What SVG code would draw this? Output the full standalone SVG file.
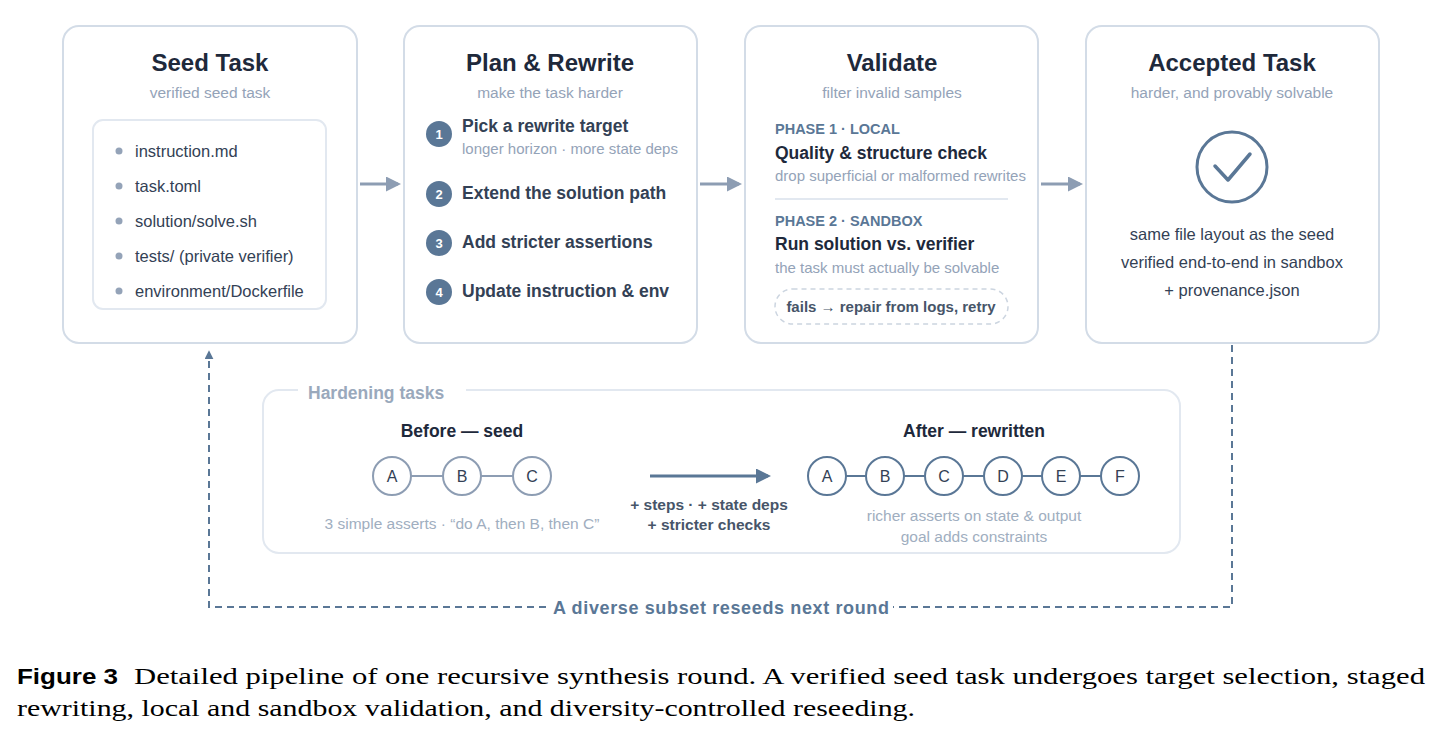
<svg xmlns="http://www.w3.org/2000/svg" width="1442" height="740" viewBox="0 0 1442 740">
<defs>
<style>
.card{fill:#fff;stroke:#d3dce7;stroke-width:2}
.t{font-family:"Liberation Sans",Arial,sans-serif}
.h{font-size:24px;font-weight:bold;fill:#1e293b;text-anchor:middle}
.sub{font-size:15.5px;fill:#94a3b8;text-anchor:middle}
.file{font-size:16.5px;fill:#334155}
.step{font-size:17.5px;font-weight:bold;fill:#334155}
.num{font-size:13px;font-weight:bold;fill:#fff;text-anchor:middle}
.ph{font-size:14.5px;font-weight:bold;fill:#5a7796}
.pt{font-size:17.5px;font-weight:bold;fill:#1e293b}
.ps{font-size:15px;fill:#94a3b8}
.acc{font-size:16.5px;fill:#334155;text-anchor:middle}
.nodeA{fill:#fff;stroke:#8d9db3;stroke-width:2}
.nodeB{fill:#fff;stroke:#5a7796;stroke-width:2}
.nl{font-size:16px;fill:#334155;text-anchor:middle}
.cap{font-family:"Liberation Serif","Times New Roman",serif;font-size:23px;fill:#000}
</style>
<marker id="ag" viewBox="0 0 10 10" refX="8" refY="5" markerWidth="5" markerHeight="5" orient="auto"><path d="M0,0L10,5L0,10z" fill="#8d9db3"/></marker>
<marker id="ab" viewBox="0 0 10 10" refX="8" refY="5" markerWidth="5" markerHeight="5" orient="auto"><path d="M0,0L10,5L0,10z" fill="#5a7796"/></marker>
<marker id="ad" viewBox="0 0 10 10" refX="8" refY="5" markerWidth="4.5" markerHeight="4.5" orient="auto"><path d="M0,0L10,5L0,10z" fill="#5a7796"/></marker>
</defs>
<rect width="1442" height="740" fill="#fff"/>

<g id="connectors">
<line x1="360" y1="184" x2="398" y2="184" stroke="#8d9db3" stroke-width="3" marker-end="url(#ag)"/>
<line x1="700" y1="184" x2="739" y2="184" stroke="#8d9db3" stroke-width="3" marker-end="url(#ag)"/>
<line x1="1041" y1="184" x2="1080" y2="184" stroke="#8d9db3" stroke-width="3" marker-end="url(#ag)"/>
<path d="M1232,345 V607 H209 V352" fill="none" stroke="#5a7796" stroke-width="2" stroke-dasharray="7,5" marker-end="url(#ad)"/>
<rect x="549" y="596" width="344" height="24" fill="#fff"/>
<text class="t" x="721" y="614" font-size="18" font-weight="bold" fill="#5a7796" text-anchor="middle" textLength="336">A diverse subset reseeds next round</text>
</g>

<g id="seed">
<rect class="card" x="63" y="26" width="294" height="317" rx="16"/>
<text class="t h" x="210" y="71">Seed Task</text>
<text class="t sub" x="210" y="98">verified seed task</text>
<rect x="93" y="120" width="233" height="189" rx="10" fill="#fff" stroke="#e2e8f0" stroke-width="2"/>
<g fill="#94a3b8"><circle cx="119" cy="151" r="3.5"/><circle cx="119" cy="186" r="3.5"/><circle cx="119" cy="221" r="3.5"/><circle cx="119" cy="256" r="3.5"/><circle cx="119" cy="291" r="3.5"/></g>
<text class="t file" x="135" y="157">instruction.md</text>
<text class="t file" x="135" y="192">task.toml</text>
<text class="t file" x="135" y="227">solution/solve.sh</text>
<text class="t file" x="135" y="262">tests/ (private verifier)</text>
<text class="t file" x="135" y="297">environment/Dockerfile</text>
</g>

<g id="plan">
<rect class="card" x="404" y="26" width="293" height="317" rx="16"/>
<text class="t h" x="550" y="71">Plan &amp; Rewrite</text>
<text class="t sub" x="550" y="98">make the task harder</text>
<g fill="#5a7796"><circle cx="439" cy="134" r="13"/><circle cx="439" cy="194" r="13"/><circle cx="439" cy="243" r="13"/><circle cx="439" cy="292" r="13"/></g>
<text class="t num" x="439" y="139">1</text><text class="t num" x="439" y="199">2</text><text class="t num" x="439" y="248">3</text><text class="t num" x="439" y="297">4</text>
<text class="t step" x="462" y="132">Pick a rewrite target</text>
<text class="t ps" x="462" y="154">longer horizon · more state deps</text>
<text class="t step" x="462" y="199">Extend the solution path</text>
<text class="t step" x="462" y="248">Add stricter assertions</text>
<text class="t step" x="462" y="297">Update instruction &amp; env</text>
</g>

<g id="validate">
<rect class="card" x="745" y="26" width="293" height="317" rx="16"/>
<text class="t h" x="892" y="71">Validate</text>
<text class="t sub" x="892" y="98">filter invalid samples</text>
<text class="t ph" x="775" y="134">PHASE 1 · LOCAL</text>
<text class="t pt" x="775" y="159">Quality &amp; structure check</text>
<text class="t ps" x="775" y="181">drop superficial or malformed rewrites</text>
<line x1="775" y1="199" x2="1008" y2="199" stroke="#e2e8f0" stroke-width="2"/>
<text class="t ph" x="775" y="226">PHASE 2 · SANDBOX</text>
<text class="t pt" x="775" y="250">Run solution vs. verifier</text>
<text class="t ps" x="775" y="273">the task must actually be solvable</text>
<rect x="775" y="289" width="233" height="35" rx="17.5" fill="#fff" stroke="#ccd5e0" stroke-width="1.5" stroke-dasharray="5,4"/>
<text class="t" x="891" y="312" font-size="15" font-weight="bold" fill="#475569" text-anchor="middle">fails → repair from logs, retry</text>
</g>

<g id="accepted">
<rect class="card" x="1086" y="26" width="293" height="317" rx="16"/>
<text class="t h" x="1232" y="71">Accepted Task</text>
<text class="t sub" x="1232" y="98">harder, and provably solvable</text>
<circle cx="1232" cy="167" r="35" fill="none" stroke="#5a7796" stroke-width="3"/>
<path d="M1215,166 L1228,180 L1250,154" fill="none" stroke="#5a7796" stroke-width="3.5" stroke-linecap="round" stroke-linejoin="round"/>
<text class="t acc" x="1232" y="240">same file layout as the seed</text>
<text class="t acc" x="1232" y="268">verified end-to-end in sandbox</text>
<text class="t acc" x="1232" y="296">+ provenance.json</text>
</g>

<g id="hardening">
<rect x="263" y="390" width="917" height="163" rx="16" fill="#fff" stroke="#e2e8f0" stroke-width="2"/>
<rect x="298" y="380" width="168" height="22" fill="#fff"/>
<text class="t" x="308" y="399" font-size="17.5" font-weight="bold" fill="#9aa9bc">Hardening tasks</text>
<text class="t" x="462" y="437" font-size="17.5" font-weight="bold" fill="#1e293b" text-anchor="middle">Before — seed</text>
<text class="t" x="974" y="437" font-size="17.5" font-weight="bold" fill="#1e293b" text-anchor="middle">After — rewritten</text>
<line x1="392" y1="476" x2="532" y2="476" stroke="#8d9db3" stroke-width="2"/>
<circle class="nodeA" cx="392" cy="476" r="19"/><circle class="nodeA" cx="462" cy="476" r="19"/><circle class="nodeA" cx="532" cy="476" r="19"/>
<text class="t nl" x="392" y="482">A</text><text class="t nl" x="462" y="482">B</text><text class="t nl" x="532" y="482">C</text>
<text class="t" x="462" y="529" font-size="15.5" fill="#a0aec0" text-anchor="middle">3 simple asserts · “do A, then B, then C”</text>
<line x1="650" y1="476" x2="768" y2="476" stroke="#5a7796" stroke-width="3" marker-end="url(#ab)"/>
<text class="t" x="709" y="510" font-size="15.5" font-weight="bold" fill="#475569" text-anchor="middle">+ steps · + state deps</text>
<text class="t" x="709" y="530" font-size="15.5" font-weight="bold" fill="#475569" text-anchor="middle">+ stricter checks</text>
<line x1="827" y1="476" x2="1120" y2="476" stroke="#5a7796" stroke-width="2"/>
<circle class="nodeB" cx="827" cy="476" r="19"/><circle class="nodeB" cx="885" cy="476" r="19"/><circle class="nodeB" cx="944" cy="476" r="19"/><circle class="nodeB" cx="1003" cy="476" r="19"/><circle class="nodeB" cx="1061" cy="476" r="19"/><circle class="nodeB" cx="1120" cy="476" r="19"/>
<text class="t nl" x="827" y="482">A</text><text class="t nl" x="885" y="482">B</text><text class="t nl" x="944" y="482">C</text><text class="t nl" x="1003" y="482">D</text><text class="t nl" x="1061" y="482">E</text><text class="t nl" x="1120" y="482">F</text>
<text class="t" x="974" y="521" font-size="15.5" fill="#a0aec0" text-anchor="middle">richer asserts on state &amp; output</text>
<text class="t" x="974" y="542" font-size="15.5" fill="#a0aec0" text-anchor="middle">goal adds constraints</text>
</g>

<g id="caption">
<text class="t" x="17" y="684" font-size="21.5" font-weight="bold" fill="#000" textLength="101" lengthAdjust="spacingAndGlyphs">Figure 3</text>
<text class="cap" x="134" y="684" textLength="1291" lengthAdjust="spacingAndGlyphs">Detailed pipeline of one recursive synthesis round. A verified seed task undergoes target selection, staged</text>
<text class="cap" x="17" y="716" textLength="898" lengthAdjust="spacingAndGlyphs">rewriting, local and sandbox validation, and diversity-controlled reseeding.</text>
</g>
</svg>
